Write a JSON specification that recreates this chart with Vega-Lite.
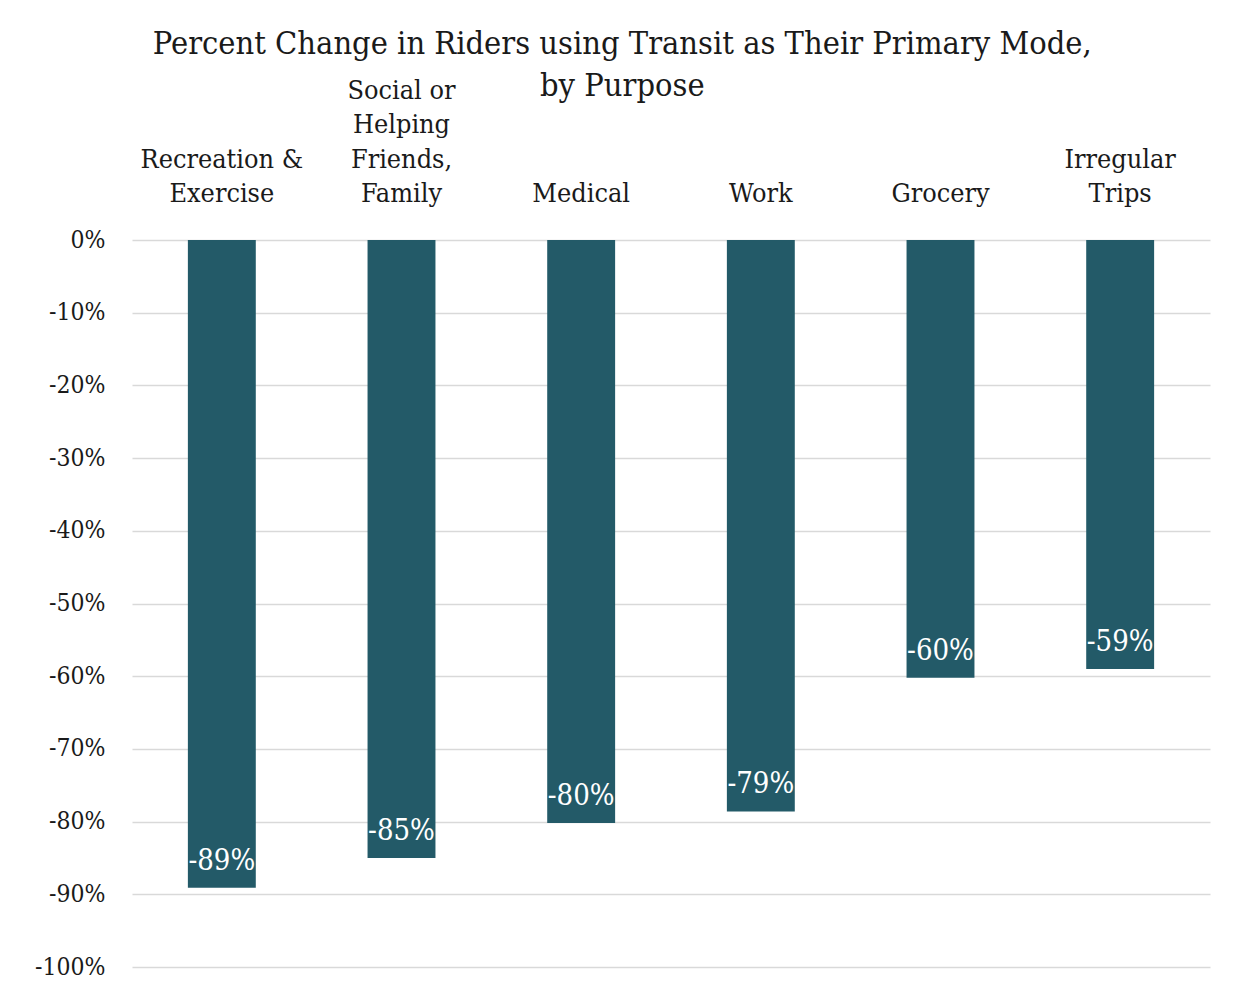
{
  "$schema": "https://vega.github.io/schema/vega-lite/v6.json",
  "width": 1078,
  "height": 727,
  "autosize": "none",
  "padding": {"left": 132, "top": 240, "right": 37, "bottom": 26},
  "background": "white",
  "title": {
    "text": ["Percent Change in Riders using Transit as Their Primary Mode,", "by Purpose"],
    "font": "DejaVu Serif Condensed",
    "fontSize": 32.3,
    "fontWeight": "normal",
    "color": "#1a1a1a",
    "lineHeight": 42,
    "anchor": "middle",
    "frame": "bounds",
    "offset": -25
  },
  "data": {
    "values": [
      {"purpose": "Recreation & Exercise", "change": -0.891},
      {"purpose": "Social or Helping Friends, Family", "change": -0.85},
      {"purpose": "Medical", "change": -0.802},
      {"purpose": "Work", "change": -0.786},
      {"purpose": "Grocery", "change": -0.602},
      {"purpose": "Irregular Trips", "change": -0.59}
    ]
  },
  "encoding": {
    "x": {
      "field": "purpose",
      "type": "nominal",
      "sort": null,
      "scale": {"paddingInner": 0.622, "paddingOuter": 0.311},
      "axis": {
        "orient": "top",
        "title": null,
        "labelAngle": 0,
        "ticks": false,
        "domain": false,
        "grid": false,
        "labelPadding": {
          "condition": [
            {"test": "datum.value == 'Social or Helping Friends, Family'", "value": 136},
            {"test": "datum.value == 'Recreation & Exercise' || datum.value == 'Irregular Trips'", "value": 67}
          ],
          "value": 32.5
        },
        "labelFont": "DejaVu Serif Condensed",
        "labelFontSize": 26.8,
        "labelColor": "#1a1a1a",
        "labelLineHeight": 34.5,
        "labelLimit": 0,
        "labelExpr": "datum.label == 'Recreation & Exercise' ? ['Recreation &', 'Exercise'] : datum.label == 'Social or Helping Friends, Family' ? ['Social or', 'Helping', 'Friends,', 'Family'] : datum.label == 'Irregular Trips' ? ['Irregular', 'Trips'] : datum.label"
      }
    },
    "y": {
      "field": "change",
      "type": "quantitative",
      "scale": {"domain": [-1, 0], "nice": false},
      "axis": {
        "title": null,
        "values": [0, -0.1, -0.2, -0.3, -0.4, -0.5, -0.6, -0.7, -0.8, -0.9, -1],
        "labelExpr": "(datum.value < -0.0001 ? '-' : '') + format(abs(datum.value), '.0%')",
        "ticks": false,
        "domain": false,
        "grid": true,
        "gridColor": "#d9d9d9",
        "gridWidth": 1.5,
        "labelPadding": 27,
        "labelFont": "DejaVu Serif Condensed",
        "labelFontSize": 24.5,
        "labelColor": "#1a1a1a"
      }
    }
  },
  "layer": [
    {"mark": {"type": "bar", "color": "#235A68"}},
    {
      "mark": {
        "type": "text",
        "color": "white",
        "baseline": "alphabetic",
        "dy": -18,
        "font": "DejaVu Serif Condensed",
        "fontSize": 29
      },
      "encoding": {
        "text": {"field": "change", "type": "quantitative", "format": ".0%"}
      }
    }
  ],
  "config": {
    "view": {"stroke": null},
    "locale": {
      "number": {"decimal": ".", "thousands": ",", "grouping": [3], "currency": ["$", ""], "minus": "-"}
    }
  }
}
